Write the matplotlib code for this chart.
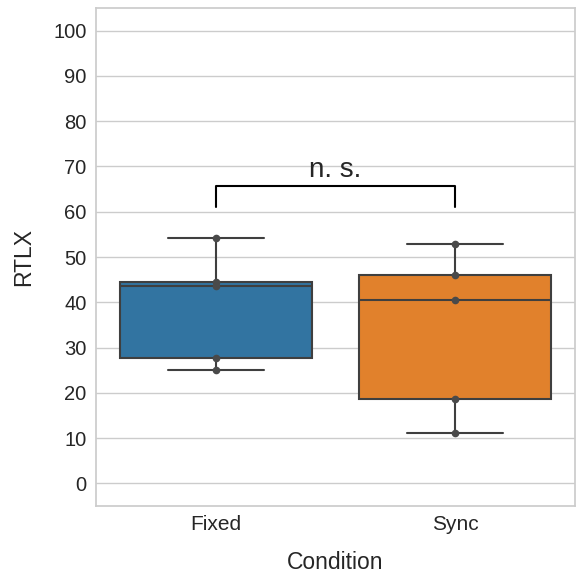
import matplotlib
matplotlib.use("Agg")
import matplotlib.pyplot as plt
import pandas as pd
import seaborn as sns

# RTLX scores per condition
conditions = ["Fixed", "Sync"]
fixed_scores = [25.0, 27.7, 43.5, 44.4, 54.2]
sync_scores = [11.1, 18.7, 40.5, 46.0, 52.8]
yticks = list(range(0, 101, 10))

df = pd.DataFrame({
    "Condition": ["Fixed"] * len(fixed_scores) + ["Sync"] * len(sync_scores),
    "RTLX": fixed_scores + sync_scores,
})

sns.set_theme(style="whitegrid")
plt.rcParams["font.family"] = ["Liberation Sans", "DejaVu Sans"]

fig = plt.figure(figsize=(5.76, 5.75), dpi=100)
ax = fig.add_axes([0.167, 0.12, 0.831, 0.866])

sns.boxplot(data=df, x="Condition", y="RTLX", hue="Condition", order=conditions,
            palette=["#1f77b4", "#ff7f0e"], saturation=0.75, width=0.8,
            linewidth=1.5, linecolor="#3f3f3f", showfliers=False, ax=ax, legend=False)
sns.stripplot(data=df, x="Condition", y="RTLX", order=conditions, jitter=False,
              color="#4a4a4a", size=5.5, ax=ax)

# significance bracket
y_low, y_high = 61.1, 65.6
ax.plot([0, 0, 1, 1], [y_low, y_high, y_high, y_low], color="black", linewidth=1.5)
ax.text(0.5, y_high + 0.8, "n. s.", ha="center", va="bottom", fontsize=20,
        color="#262626")

ax.set_ylim(-5, 105)
ax.set_xlim(-0.5, 1.5)
ax.set_yticks(yticks)
ax.tick_params(axis="y", labelsize=14.5, length=0, pad=7)
ax.tick_params(axis="x", labelsize=15, length=0, pad=6.5)
ax.set_xlabel("Condition", fontsize=16.5, labelpad=12)
ax.set_ylabel("RTLX", fontsize=16.5, labelpad=13)
ax.grid(axis="x", visible=False)

fig.savefig("out.png", dpi=100)
